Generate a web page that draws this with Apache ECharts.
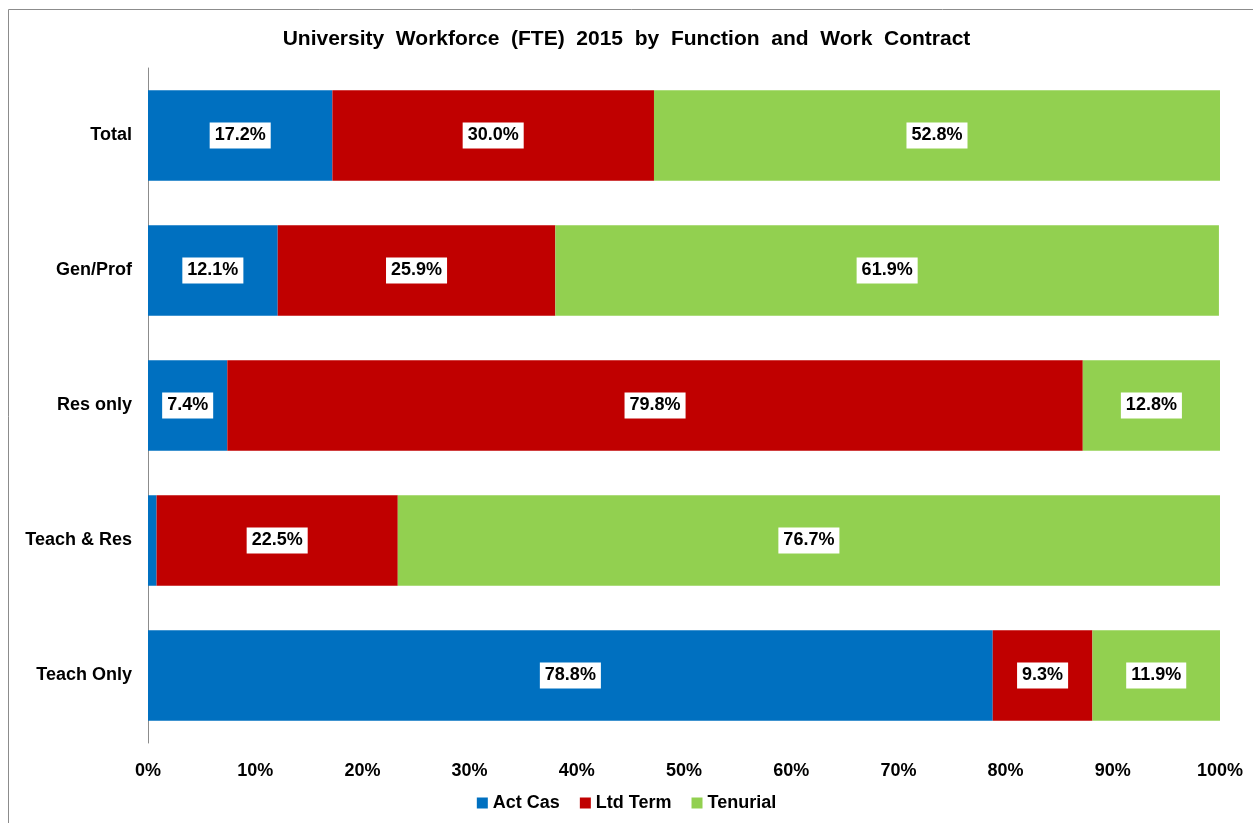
<!DOCTYPE html>
<html>
<head>
<meta charset="utf-8">
<script src="https://cdn.jsdelivr.net/npm/echarts@6/dist/echarts.min.js"></script>
<style>
    html, body { margin: 0; padding: 0; background: #fff; }
    #chart { width: 1253px; height: 823px; }
</style>
</head>
<body>
<div id="chart"></div>
<script>
    // bottom to top, as the category axis draws them
    var categories = ['Teach Only', 'Teach & Res', 'Res only', 'Gen/Prof', 'Total'];
    var actCas   = [78.8, 0.8, 7.4, 12.1, 17.2];
    var ltdTerm  = [9.3, 22.5, 79.8, 25.9, 30.0];
    var tenurial = [11.9, 76.7, 12.8, 61.9, 52.8];
    var xTicks   = [0, 10, 20, 30, 40, 50, 60, 70, 80, 90, 100];

    var font = '"Liberation Sans", Arial, sans-serif';

    function toData(values) {
        // tiny slices get no label box, as in the original
        return values.map(function (v) {
            return { value: v, label: { show: v >= 2 } };
        });
    }

    function makeSeries(name, values, color) {
        return {
            name: name,
            type: 'bar',
            stack: 'total',
            barCategoryGap: '33%',
            itemStyle: { color: color },
            label: {
                show: true,
                position: 'inside',
                color: '#000',
                fontFamily: font,
                fontWeight: 'bold',
                fontSize: 18,
                backgroundColor: '#fff',
                padding: [5, 5, 3, 5],
                formatter: function (p) { return p.value.toFixed(1) + '%'; }
            },
            emphasis: { disabled: true },
            data: toData(values)
        };
    }

    var chart = echarts.init(document.getElementById('chart'));
    chart.setOption({
        animation: false,
        title: {
            text: 'University  Workforce  (FTE)  2015  by  Function  and  Work  Contract',
            left: 'center',
            top: 24,
            textStyle: { fontFamily: font, fontWeight: 'bold', fontSize: 21, color: '#000' }
        },
        graphic: [{
            type: 'rect',
            shape: { x: 8.5, y: 9.5, width: 1260, height: 830 },
            style: { fill: 'none', stroke: '#8c8c8c', lineWidth: 1 },
            silent: true
        }],
        legend: {
            bottom: 6,
            left: 'center',
            icon: 'rect',
            itemWidth: 11,
            itemHeight: 11,
            itemGap: 20,
            textStyle: { fontFamily: font, fontWeight: 'bold', fontSize: 18, color: '#000' },
            data: ['Act Cas', 'Ltd Term', 'Tenurial']
        },
        grid: { left: 148, right: 33, top: 68, bottom: 80, containLabel: false },
        xAxis: {
            type: 'value',
            min: xTicks[0],
            max: xTicks[xTicks.length - 1],
            interval: 10,
            axisLine: { show: false },
            axisTick: { show: false },
            splitLine: { show: false },
            axisLabel: {
                margin: 19,
                color: '#000',
                fontFamily: font,
                fontWeight: 'bold',
                fontSize: 18,
                formatter: '{value}%'
            }
        },
        yAxis: {
            type: 'category',
            data: categories,
            axisLine: { show: true, lineStyle: { color: '#8c8c8c', width: 1 } },
            axisTick: { show: false },
            axisLabel: {
                margin: 16,
                color: '#000',
                fontFamily: font,
                fontWeight: 'bold',
                fontSize: 18,
                padding: [4, 0, 0, 0]
            }
        },
        series: [
            makeSeries('Act Cas', actCas, '#0070C0'),
            makeSeries('Ltd Term', ltdTerm, '#C00000'),
            makeSeries('Tenurial', tenurial, '#92D050')
        ]
    });
</script>
</body>
</html>
